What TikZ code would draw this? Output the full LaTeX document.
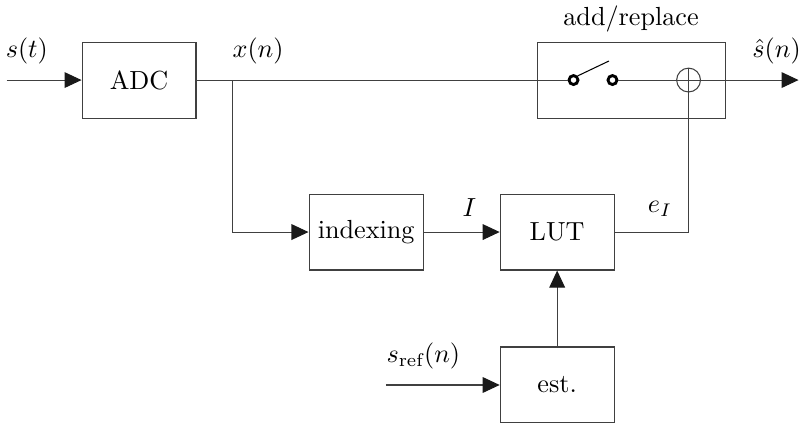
\documentclass[tikz,border=0pt]{standalone}
\usepackage{amsmath}
\usetikzlibrary{arrows.meta, positioning, calc}
\tikzset{
    blockdiagram/.style={>={Triangle[length=6.5pt,width=6pt,color=black!90]}, color=black!75, every node/.append style={text=black}},
    block/.style={draw, minimum width=1.53cm, minimum height=1.02cm, align=center},
    sum/.style={draw, circle, minimum size=0.32cm, inner sep=0pt},
    contact/.style={draw=black, circle, line width=1.1pt, minimum size=0.12cm, inner sep=0pt},
    input/.style={coordinate},
    output/.style={coordinate},
    % signal names sit a little above their wire
    lbl/.style={above=2.5pt},
}
\begin{document}
\begin{tikzpicture}[blockdiagram]
    \useasboundingbox (0,0) rectangle (10.73,5.681);
    \node[block] (adc) at (1.867,4.606) {ADC};
    \node[input, left=1.007cm of adc]    (in)   {};
    \node[block, minimum width=2.525cm, right=4.566cm of adc, label={above:add/replace}] (sw) {};
    \node[contact] (c1) at ($(sw.west)+(0.497,0)$) {};
    \node[contact] (c2) at ($(sw.west)+(1.02,0)$)  {};
    \node[sum]     (sum) at ($(sw.east)+(-0.497,0)$) {};
    \node[output, right=0.98cm of sw]    (out)  {};
    \coordinate[right=0.483cm of adc]    (p1);
    \node[block, below right=1.007cm and 1.504cm of adc] (idx) {indexing};
    \node[block, right=1.02cm of idx]    (lut)  {LUT};
    \node[block, below=1.02cm of lut]    (est)  {est.};
    \node[input, left=1.53cm of est]     (ref)  {};

    \draw[->] (in) -- node[lbl, pos=0.27] {$s(t)$} (adc);
    \draw (adc) -- node[lbl, pos=0.166] {$x(n)$} (c1);

    % switch and adder
    \draw[black] (c1.north east) -- ++(0.42,0.2);
    \draw (c2) -- (sum.west);
    \draw[->] (sum.west) -- node[lbl, pos=0.82, inner xsep=1pt] {$\hat{s}(n)$} (out);

    % lower path
    \draw[->] (p1) |- (idx);
    \draw[->] (idx) -- node[lbl, pos=0.6] {$I$} (lut);
    \draw (lut) -| node[lbl, pos=0.307] {$e_I$} (sum.north);
    \draw[->] (ref) -- node[lbl, pos=0.33] {$s_{\text{ref}}(n)$} (est);
    \draw[->] (est) -- (lut);
\end{tikzpicture}
\end{document}
